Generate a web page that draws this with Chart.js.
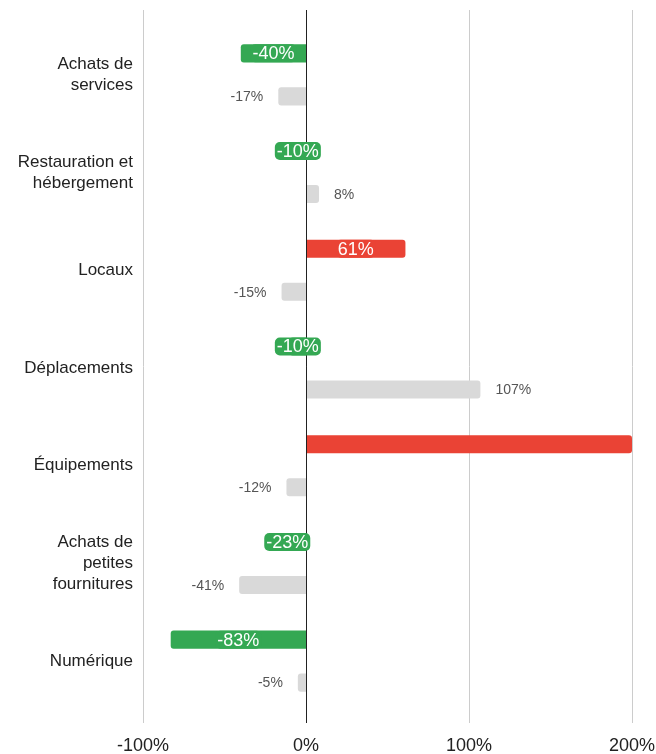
<!DOCTYPE html>
<html>
<head>
<meta charset="utf-8">
<script src="https://cdn.jsdelivr.net/npm/chart.js@4"></script>
<style>
  html, body { margin: 0; padding: 0; background: #fff; }
  #wrap { width: 656px; height: 754px; }
</style>
</head>
<body>
<div id="wrap"><canvas id="chart"></canvas></div>
<script>
// categories (y axis), multi-line labels
const categories = [
  ["Achats de", "services"],
  ["Restauration et", "hébergement"],
  ["Locaux"],
  ["Déplacements"],
  ["Équipements"],
  ["Achats de", "petites", "fournitures"],
  ["Numérique"]
];
// main series (%), coloured bars
const mainValues = [-40, -10, 61, -10, 200, -23, -83];
// comparison series (%), grey bars
const greyValues = [-17, 8, -15, 107, -12, -41, -5];
// x axis ticks
const xTicks = [-100, 0, 100, 200];

const GREEN = "#34a853", RED = "#ea4335", GREY = "#d9d9d9";
const FONT = "'Liberation Sans', Arial, sans-serif";

const gridPlugin = {
  id: "grid",
  beforeDatasetsDraw(chart) {
    const ctx = chart.ctx, x = chart.scales.x;
    ctx.save();
    xTicks.forEach(v => {
      const px = Math.round(x.getPixelForValue(v)) + 0.5;
      ctx.strokeStyle = v === 0 ? "#222" : "#cccccc";
      ctx.lineWidth = 1;
      ctx.beginPath();
      ctx.moveTo(px, 10);
      ctx.lineTo(px, 723);
      ctx.stroke();
    });
    ctx.restore();
  },
  afterDatasetsDraw(chart) {
    const ctx = chart.ctx, x = chart.scales.x;
    ctx.save();
    // zero line back on top of the bars
    const zx = Math.round(x.getPixelForValue(0)) + 0.5;
    ctx.strokeStyle = "#222";
    ctx.beginPath(); ctx.moveTo(zx, 10); ctx.lineTo(zx, 723); ctx.stroke();

    // main labels: white text centred in the bar, on a bar-coloured pill
    ctx.font = "18px " + FONT;
    ctx.textAlign = "center";
    ctx.textBaseline = "middle";
    chart.getDatasetMeta(0).data.forEach((bar, i) => {
      const v = mainValues[i];
      if (v >= x.max) return;
      const cx = (bar.x + bar.base) / 2;
      const txt = v + "%";
      const w = ctx.measureText(txt).width + 4;
      ctx.fillStyle = v < 0 ? GREEN : RED;
      ctx.beginPath();
      ctx.roundRect(cx - w / 2, bar.y - 9, w, 18, 5);
      ctx.fill();
      ctx.fillStyle = "#fff";
      ctx.fillText(txt, cx, bar.y + 1);
    });

    // grey labels outside the bar end
    ctx.font = "14px " + FONT;
    ctx.fillStyle = "#555";
    chart.getDatasetMeta(1).data.forEach((bar, i) => {
      const v = greyValues[i];
      ctx.textAlign = v < 0 ? "right" : "left";
      ctx.fillText(v + "%", bar.x + (v < 0 ? -15 : 15), bar.y + 1);
    });
    ctx.restore();
  }
};

new Chart(document.getElementById("chart"), {
  type: "bar",
  data: {
    labels: categories,
    datasets: [
      {
        data: mainValues,
        backgroundColor: mainValues.map(v => v < 0 ? GREEN : RED),
        borderRadius: 3
      },
      {
        data: greyValues,
        backgroundColor: GREY,
        borderRadius: 3
      }
    ]
  },
  options: {
    indexAxis: "y",
    responsive: true,
    maintainAspectRatio: false,
    animation: false,
    categoryPercentage: 0.88,
    barPercentage: 0.42,
    layout: { padding: { top: 26, right: 0, left: 0, bottom: 0 } },
    plugins: { legend: { display: false }, tooltip: { enabled: false } },
    scales: {
      x: {
        min: -100,
        max: 200,
        border: { display: false },
        grid: { display: false },
        afterFit(s) {
          s.height = 44;
          s.paddingRight = 24;
          s.paddingLeft = 0;
        },
        afterBuildTicks(s) { s.ticks = xTicks.map(v => ({ value: v })); },
        ticks: {
          padding: 17,
          color: "#222",
          font: { family: FONT, size: 18 },
          callback: v => v + "%"
        }
      },
      y: {
        border: { display: false },
        grid: { display: false },
        afterFit(s) { s.width = 143; },
        ticks: {
          padding: 2,
          color: "#222",
          font: { family: FONT, size: 17, lineHeight: "21px" }
        }
      }
    }
  },
  plugins: [gridPlugin]
});
</script>
</body>
</html>
